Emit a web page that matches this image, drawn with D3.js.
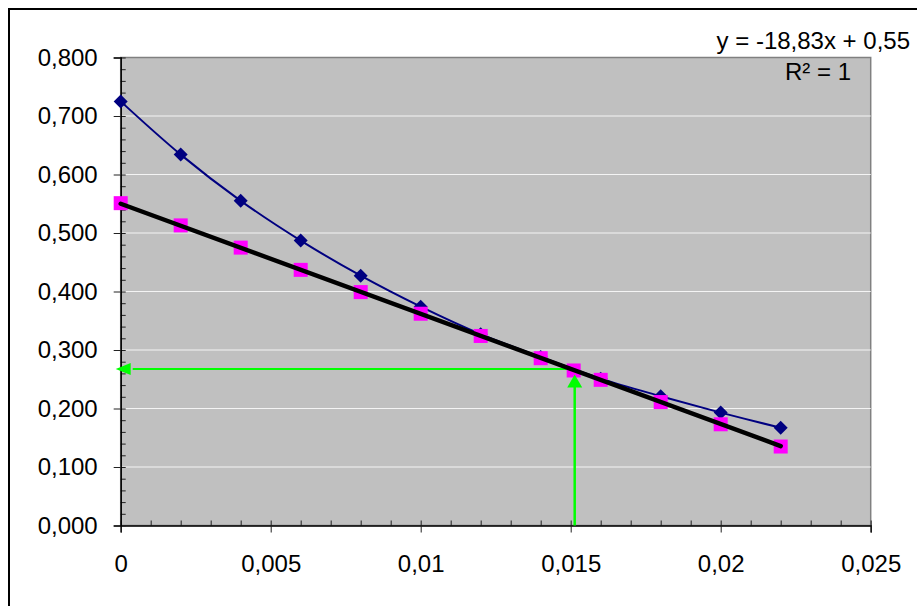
<!DOCTYPE html>
<html>
<head>
<meta charset="utf-8">
<script src="https://cdn.jsdelivr.net/npm/d3@7"></script>
<style>
  body { margin: 0; background: #fff; }
  svg { display: block; font-family: "Liberation Sans", Arial, sans-serif; }
</style>
</head>
<body>
<script>
"use strict";
// data
const xValues = [0, 0.002, 0.004, 0.006, 0.008, 0.010, 0.012, 0.014, 0.016, 0.018, 0.020, 0.022]
const measured = [0.725, 0.634, 0.555, 0.487, 0.427, 0.374, 0.327, 0.288, 0.251, 0.221, 0.193, 0.167]
const corrected = [0.551, 0.513, 0.475, 0.437, 0.399, 0.362, 0.324, 0.286, 0.249, 0.211, 0.173, 0.135]
const sampleX = [0.0151]
const sampleY = [0.265]
const trendSlope = -18.83
const trendIntercept = 0.55
const equationLines = ["y = -18,83x + 0,55", "R² = 1"]

const xTicks = [0, 0.005, 0.01, 0.015, 0.02, 0.025]
const xTickLabels = ["0", "0,005", "0,01", "0,015", "0,02", "0,025"]
const yTicks = [0, 0.1, 0.2, 0.3, 0.4, 0.5, 0.6, 0.7, 0.8]
const yTickLabels = ["0,000", "0,100", "0,200", "0,300", "0,400", "0,500", "0,600", "0,700", "0,800"]

// Dimensions
const size = { width: 917, height: 606 }
const plot = { left: 120.7, right: 870.7, top: 57.5, bottom: 525.5 }

const svg = d3.select("body").append("svg")
    .attr("width", size.width)
    .attr("height", size.height)

const x = d3.scaleLinear().domain([0, 0.025]).range([plot.left, plot.right])
const y = d3.scaleLinear().domain([0, 0.8]).range([plot.bottom, plot.top])

// outer frame
svg.append("rect")
    .attr("x", 9).attr("y", 9)
    .attr("width", size.width + 10).attr("height", size.height + 10)
    .attr("fill", "none").attr("stroke", "#000").attr("stroke-width", 2)

// plot area
svg.append("rect")
    .attr("x", plot.left).attr("y", plot.top)
    .attr("width", plot.right - plot.left).attr("height", plot.bottom - plot.top)
    .attr("fill", "#c0c0c0").attr("stroke", "#808080").attr("stroke-width", 1.5)

// gridlines
svg.append("g")
    .selectAll("line")
    .data(yTicks.filter(d => d > 0 && d < 0.8))
    .enter().append("line")
    .attr("x1", plot.left).attr("x2", plot.right)
    .attr("y1", d => y(d)).attr("y2", d => y(d))
    .attr("stroke", "#f4f4f4").attr("stroke-width", 1.2)

// axes
function styleAxis(g) {
    g.selectAll(".tick line").attr("stroke", "#222")
    g.selectAll("text").attr("fill", "#000").style("font-size", "24px")
}

const xMinor = d3.range(0, 26).map(i => i / 1000)
svg.append("g")
    .attr("transform", "translate(0," + plot.bottom + ")")
    .call(d3.axisTop(x).tickValues(xMinor).tickSize(5).tickFormat(""))
    .call(g => g.select(".domain").remove())
    .call(styleAxis)

svg.append("g")
    .attr("transform", "translate(0," + plot.bottom + ")")
    .call(d3.axisBottom(x).tickValues(xTicks).tickSize(7).tickPadding(22)
        .tickFormat((d, i) => xTickLabels[i]))
    .call(g => g.select(".domain").attr("stroke", "#000").attr("stroke-width", 1.5))
    .call(styleAxis)

const yMinor = d3.range(0, 41).map(i => i / 50)
svg.append("g")
    .attr("transform", "translate(" + plot.left + ",0)")
    .call(d3.axisRight(y).tickValues(yMinor).tickSize(5).tickFormat(""))
    .call(g => g.select(".domain").remove())
    .call(styleAxis)

svg.append("g")
    .attr("transform", "translate(" + plot.left + ",0)")
    .call(d3.axisLeft(y).tickValues(yTicks).tickSize(7).tickPadding(16)
        .tickFormat((d, i) => yTickLabels[i]))
    .call(g => g.select(".domain").attr("stroke", "#000").attr("stroke-width", 1.5))
    .call(styleAxis)
    .call(g => g.selectAll("text").attr("dy", "0.33em"))

// measured series: smoothed navy line with diamonds
const measuredPts = xValues.map((d, i) => [d, measured[i]])
svg.append("path")
    .datum(measuredPts)
    .attr("fill", "none").attr("stroke", "#000080").attr("stroke-width", 2)
    .attr("d", d3.line().x(d => x(d[0])).y(d => y(d[1])).curve(d3.curveCatmullRom.alpha(0.5)))

svg.append("g")
    .selectAll("path")
    .data(measuredPts)
    .enter().append("path")
    .attr("transform", d => "translate(" + x(d[0]) + "," + y(d[1]) + ")")
    .attr("d", "M0,-7L7,0L0,7L-7,0Z")
    .attr("fill", "#000080")

// green helper line to the y axis (under the squares)
const greenColor = "#00ff00"
svg.append("line")
    .attr("x1", x(0) + 12).attr("x2", x(sampleX[0]))
    .attr("y1", y(sampleY[0]) - 1.5).attr("y2", y(sampleY[0]) - 1.5)
    .attr("stroke", greenColor).attr("stroke-width", 2)
svg.append("path")
    .attr("transform", "translate(" + (x(0) - 5) + "," + (y(sampleY[0]) - 1.5) + ")")
    .attr("d", "M0,0L15,-6L15,6Z")
    .attr("fill", greenColor)

// corrected series: magenta squares
const correctedPts = xValues.map((d, i) => [d, corrected[i]])
    .concat(sampleX.map((d, i) => [d, sampleY[i]]))
svg.append("g")
    .selectAll("rect")
    .data(correctedPts)
    .enter().append("rect")
    .attr("x", d => x(d[0]) - 7).attr("y", d => y(d[1]) - 7)
    .attr("width", 14).attr("height", 14)
    .attr("fill", "#ff00ff")

// green vertical arrow from the x axis
svg.append("line")
    .attr("x1", x(sampleX[0]) + 1).attr("x2", x(sampleX[0]) + 1)
    .attr("y1", y(0)).attr("y2", y(sampleY[0]) + 10)
    .attr("stroke", greenColor).attr("stroke-width", 2.5)
svg.append("path")
    .attr("transform", "translate(" + (x(sampleX[0]) + 1) + "," + (y(sampleY[0]) + 4) + ")")
    .attr("d", "M0,0L7.5,13L-7.5,13Z")
    .attr("fill", greenColor)

// linear trendline
const trendX = d3.extent(xValues)
svg.append("line")
    .attr("x1", x(trendX[0])).attr("y1", y(trendSlope * trendX[0] + trendIntercept))
    .attr("x2", x(trendX[1])).attr("y2", y(trendSlope * trendX[1] + trendIntercept))
    .attr("stroke", "#000").attr("stroke-width", 4.5).attr("stroke-linecap", "round")

// equation label
svg.append("g")
    .selectAll("text")
    .data(equationLines)
    .enter().append("text")
    .attr("x", (d, i) => i === 0 ? 910 : 851)
    .attr("y", (d, i) => i === 0 ? 49 : 80)
    .attr("text-anchor", "end")
    .style("font-size", "24px")
    .attr("fill", "#000")
    .text(d => d)
</script>
</body>
</html>
